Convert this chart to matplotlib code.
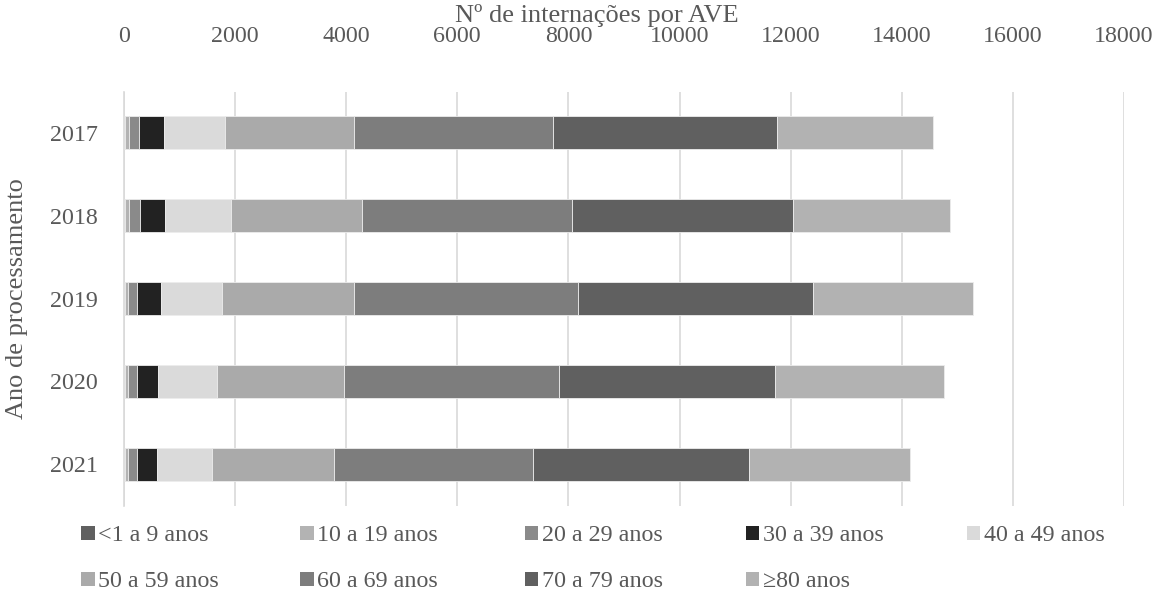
import matplotlib
matplotlib.use("Agg")
import matplotlib.pyplot as plt
from matplotlib.patches import Patch
import numpy as np

plt.rcParams['font.family'] = ['Liberation Serif', 'DejaVu Serif']

years = ["2017", "2018", "2019", "2020", "2021"]
age_groups = ["<1 a 9 anos", "10 a 19 anos", "20 a 29 anos", "30 a 39 anos",
              "40 a 49 anos", "50 a 59 anos", "60 a 69 anos", "70 a 79 anos",
              "\u226580 anos"]

# hospitalisations per age group, one list per year (2017..2021)
age_0_9 = [25, 27, 22, 20, 22]
age_10_19 = [65, 63, 45, 47, 45]
age_20_29 = [180, 198, 167, 171, 171]
age_30_39 = [455, 455, 427, 370, 356]
age_40_49 = [1093, 1183, 1112, 1062, 990]
age_50_59 = [2322, 2358, 2367, 2290, 2196]
age_60_69 = [3577, 3780, 4032, 3877, 3575]
age_70_79 = [4041, 3978, 4230, 3888, 3895]
age_80_plus = [2804, 2826, 2875, 3035, 2898]

series = [age_0_9, age_10_19, age_20_29, age_30_39, age_40_49,
          age_50_59, age_60_69, age_70_79, age_80_plus]
colors = ["#606060", "#b3b3b3", "#8a8a8a", "#222222", "#dadada",
          "#aaaaaa", "#7d7d7d", "#606060", "#b2b2b2"]

text_color = "#595959"
grid_color = "#d9d9d9"
tick_fs = 17.3
title_fs = 19

fig = plt.figure(figsize=(11.64, 5.95), dpi=100)
ax = fig.add_axes([0.1065, 0.1504, 0.8591, 0.6958])

y = np.arange(len(years))
left = np.zeros(len(years))
handles = []
for vals, col, lab in zip(series, colors, age_groups):
    vals = np.array(vals, dtype=float)
    ax.barh(y, vals, left=left, height=0.4, color=col,
            edgecolor="#ececec", linewidth=0.6, zorder=3)
    left += vals
    handles.append(Patch(facecolor=col, edgecolor="none", label=lab))

ax.set_xlim(0, 18000)
ax.set_ylim(len(years) - 0.5, -0.5)
ax.set_xticks(np.arange(0, 18001, 2000))
ax.set_yticks(y)
ax.set_yticklabels(years)

ax.xaxis.tick_top()
ax.xaxis.set_label_position("top")
ax.grid(axis="x", color=grid_color, linewidth=1.2, zorder=0)
ax.tick_params(axis="x", length=0, pad=32, labelsize=tick_fs, colors=text_color)
ax.tick_params(axis="y", length=0, pad=19, labelsize=tick_fs, colors=text_color)
for s in ["top", "right", "bottom"]:
    ax.spines[s].set_visible(False)
ax.spines["left"].set_color(grid_color)
ax.spines["left"].set_linewidth(1.2)

ax.set_xlabel("N\u00ba de interna\u00e7\u00f5es por AVE", fontsize=title_fs,
              color=text_color)
ax.xaxis.set_label_coords((597 - 124) / 1000, 1 + (91.5 - 15) / 414)
ax.xaxis.label.set_va("center")
ax.set_ylabel("Ano de processamento", fontsize=title_fs, color=text_color)
ax.yaxis.set_label_coords((17 - 124) / 1000, 0.5)
ax.yaxis.label.set_va("center")

# legend laid out row by row on a fixed column pitch
col_x = [0.070, 0.258, 0.451, 0.641, 0.831]
for c, x0 in enumerate(col_x):
    idx = [i for i in (c, c + 5) if i < len(handles)]
    leg = fig.legend([handles[i] for i in idx], [age_groups[i] for i in idx],
                     ncol=1, loc="upper left", bbox_to_anchor=(x0, 0.117),
                     frameon=False, fontsize=tick_fs, handlelength=0.55,
                     handleheight=0.55, handletextpad=0.15,
                     labelspacing=1.04, borderaxespad=0, borderpad=0)
    for t in leg.get_texts():
        t.set_color(text_color)

fig.savefig("out.png", dpi=100)
